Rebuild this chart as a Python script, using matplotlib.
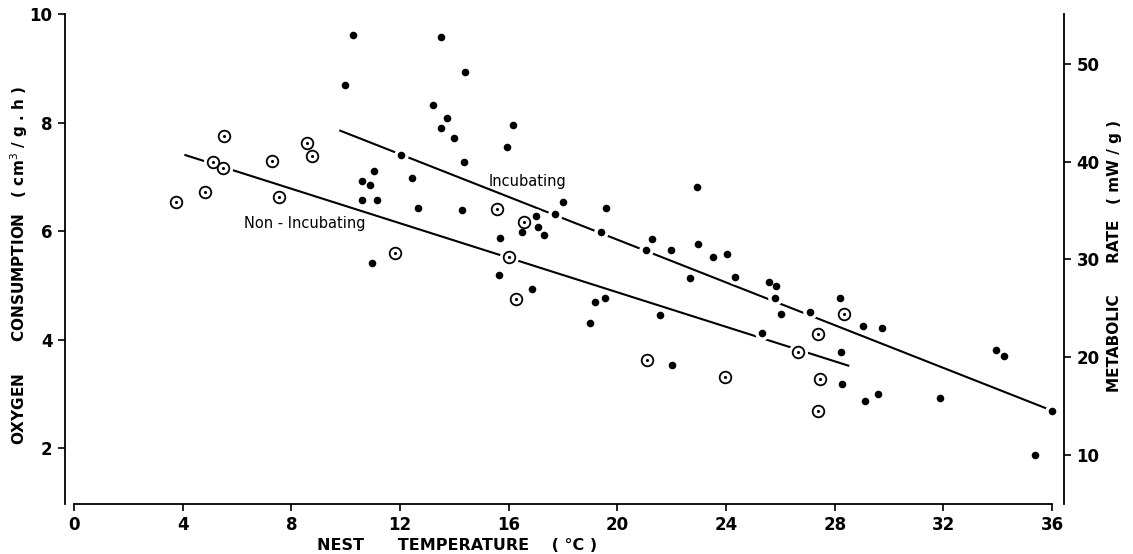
import matplotlib
matplotlib.use('Agg')
import matplotlib.pyplot as plt
import numpy as np

# Incubating birds (filled dots): nest temperature (°C), O2 consumption (cm3/g.h)
inc_temp = [10.28, 9.96, 11.04, 10.59, 10.89, 10.62, 11.14, 10.97, 12.04, 13.50,
            14.41, 13.23, 13.73, 13.52, 14.00, 16.15, 15.95, 14.34, 12.43, 12.65,
            14.27, 18.01, 19.60, 17.02, 17.69, 17.07, 16.48, 17.30, 15.68, 19.40,
            22.93, 21.27, 21.04, 21.99, 22.98, 23.53, 24.03, 15.64, 22.68, 24.34,
            25.57, 16.87, 19.17, 19.55, 18.99, 21.57, 22.01, 25.84, 25.80, 26.03,
            25.32, 27.08, 28.19, 29.04, 29.75, 28.24, 28.27, 29.11, 29.60, 31.88,
            33.93, 34.22, 36.00, 35.37]
inc_o2 = [9.61, 8.70, 7.10, 6.93, 6.84, 6.58, 6.57, 5.42, 7.41, 9.58,
          8.94, 8.33, 8.08, 7.89, 7.71, 7.95, 7.55, 7.27, 6.98, 6.42,
          6.38, 6.53, 6.43, 6.28, 6.31, 6.07, 5.98, 5.92, 5.87, 5.99,
          6.81, 5.85, 5.66, 5.65, 5.77, 5.53, 5.58, 5.19, 5.14, 5.16,
          5.07, 4.94, 4.70, 4.77, 4.30, 4.46, 3.53, 4.99, 4.77, 4.47,
          4.12, 4.51, 4.76, 4.25, 4.22, 3.77, 3.18, 2.87, 3.00, 2.93,
          3.80, 3.69, 2.68, 1.88]

# Non-incubating birds (circled dots)
non_temp = [3.75, 4.81, 5.13, 5.47, 5.53, 7.28, 7.56, 8.59, 8.77, 11.82,
            15.57, 16.55, 16.00, 16.27, 21.08, 23.98, 28.36, 27.37, 26.66,
            27.47, 27.38]
non_o2 = [6.54, 6.72, 7.27, 7.16, 7.75, 7.30, 6.62, 7.63, 7.39, 5.60,
          6.41, 6.16, 5.52, 4.75, 3.62, 3.31, 4.47, 4.10, 3.77,
          3.28, 2.68]

# regression lines: (start temp, end temp, start O2, end O2)
inc_fit = (9.8, 35.8, 7.85, 2.73)
non_fit = (4.1, 28.5, 7.40, 3.52)

# O2 (cm3/g.h) -> metabolic rate (mW/g), as printed on the right axis
mw_scale, mw_offset = 5.55, -0.4

x_ticks = [0, 4, 8, 12, 16, 20, 24, 28, 32, 36]
y_ticks = [2, 4, 6, 8, 10]
mw_ticks = [10, 20, 30, 40, 50]

plt.rcParams['font.family'] = 'DejaVu Sans'

fig = plt.figure(figsize=(11.33, 5.54), dpi=100)
ax = fig.add_axes([65 / 1133, 1 - 504 / 554, (1064 - 65) / 1133, (504 - 14) / 554])
ax.set_xlim(-0.33, 36.44)
ax.set_ylim(0.97, 10.0)

for t0, t1, v0, v1 in [inc_fit, non_fit]:
    ax.plot([t0, t1], [v0, v1], color='black', lw=1.5, zorder=1)

# white halos so the lines break around the points, as in the print
ax.scatter(inc_temp, inc_o2, s=110, color='white', zorder=2, linewidths=0)
ax.scatter(non_temp, non_o2, s=190, color='white', zorder=2, linewidths=0)

ax.scatter(inc_temp, inc_o2, s=30, color='black', zorder=3, linewidths=0)
ax.scatter(non_temp, non_o2, s=70, facecolor='white', edgecolor='black',
           linewidths=1.3, zorder=3)
ax.scatter(non_temp, non_o2, s=5, color='black', zorder=4, linewidths=0)

ax.text(15.27, 6.92, 'Incubating', fontsize=10.5, ha='left', va='center')
ax.text(6.26, 6.14, 'Non - Incubating', fontsize=10.5, ha='left', va='center')

for side in ['top', 'right']:
    ax.spines[side].set_visible(False)
ax.spines['bottom'].set_bounds(0, 36)
for side in ['left', 'bottom']:
    ax.spines[side].set_linewidth(1.3)

ax.set_xticks(x_ticks)
ax.set_yticks(y_ticks)
ax.tick_params(direction='out', length=5, width=1.2, labelsize=12, pad=4)
for lab in ax.get_xticklabels() + ax.get_yticklabels():
    lab.set_fontweight('bold')

sec = ax.secondary_yaxis('right', functions=(lambda v: v * mw_scale + mw_offset,
                                             lambda m: (m - mw_offset) / mw_scale))
sec.set_yticks(mw_ticks)
sec.spines['right'].set_linewidth(1.3)
sec.tick_params(direction='out', length=5, width=1.2, labelsize=12, pad=4)
for lab in sec.get_yticklabels():
    lab.set_fontweight('bold')

fig.text(19 / 1133, 1 - 265 / 554,
         'OXYGEN      CONSUMPTION   ( cm$^3$ / g . h )',
         rotation=90, ha='center', va='center', fontsize=11, fontweight='bold')
fig.text(1115 / 1133, 1 - 256 / 554,
         'METABOLIC      RATE   ( mW / g )',
         rotation=90, ha='center', va='center', fontsize=11, fontweight='bold')
fig.text(457 / 1133, 1 - 545 / 554,
         'NEST      TEMPERATURE    ( °C )',
         ha='center', va='center', fontsize=11.5, fontweight='bold')

fig.savefig('out.png', dpi=100)
